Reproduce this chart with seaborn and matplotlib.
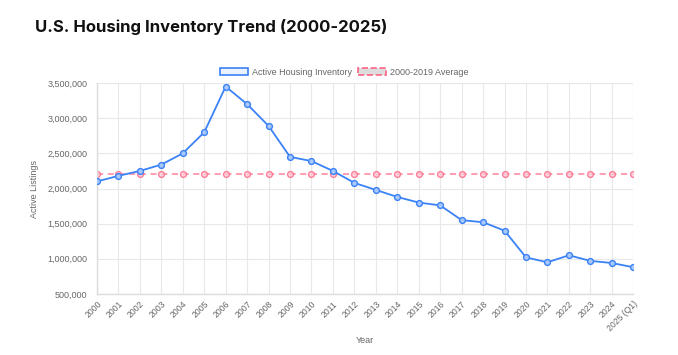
import matplotlib
matplotlib.use('Agg')
import matplotlib.pyplot as plt
import seaborn as sns
import pandas as pd
from matplotlib.patches import Patch
from matplotlib.ticker import FuncFormatter

# Data
years = ['2000', '2001', '2002', '2003', '2004', '2005', '2006', '2007', '2008',
         '2009', '2010', '2011', '2012', '2013', '2014', '2015', '2016', '2017',
         '2018', '2019', '2020', '2021', '2022', '2023', '2024', '2025 (Q1)']
inventory = [2100000, 2180000, 2250000, 2340000, 2500000, 2800000, 3450000, 3200000,
             2890000, 2450000, 2390000, 2250000, 2080000, 1980000, 1880000, 1800000,
             1760000, 1550000, 1520000, 1400000, 1020000, 950000, 1050000, 970000,
             940000, 880000]
avg_value = 2200000

df = pd.DataFrame({'Year': years, 'Inventory': inventory,
                   'Average': [avg_value] * len(years)})
df['pos'] = range(len(years))

sns.set_style('white')
plt.rcParams['font.family'] = ['Liberation Sans', 'DejaVu Sans']

blue = '#3b82f6'
red = '#ff6384'
grid_c = '#e8e8e8'
text_c = '#666666'

fig = plt.figure(figsize=(6.78, 3.55), dpi=100)
ax = fig.add_axes([0.143, 0.172, 0.791, 0.594])

sns.lineplot(data=df, x='pos', y='Average', ax=ax, color=red, lw=1.1,
             linestyle=(0, (4, 3)), marker='o', markersize=4.2,
             markerfacecolor='#ffd0da', markeredgecolor=red, markeredgewidth=1.0,
             alpha=0.8, zorder=2)
sns.lineplot(data=df, x='pos', y='Inventory', ax=ax, color=blue, lw=1.3,
             marker='o', markersize=4.2, markerfacecolor='#a9c8fb',
             markeredgecolor=blue, markeredgewidth=1.0, zorder=3)

ax.set_xlim(0, len(years) - 1)
ax.set_ylim(500000, 3500000)
ax.set_xticks(df['pos'])
ax.set_xticklabels(years, rotation=45, ha='right', rotation_mode='anchor',
                   fontsize=6.2, color=text_c)
ax.set_yticks([500000, 1000000, 1500000, 2000000, 2500000, 3000000, 3500000])
ax.yaxis.set_major_formatter(FuncFormatter(lambda v, p: f'{int(v):,}'))
ax.tick_params(axis='y', labelsize=6.5, labelcolor=text_c, length=0, pad=7)
ax.tick_params(axis='x', length=3, color=grid_c, pad=1)
ax.grid(True, color=grid_c, lw=0.8)
ax.set_axisbelow(True)
for s in ['top', 'right']:
    ax.spines[s].set_visible(False)
for s in ['left', 'bottom']:
    ax.spines[s].set_color('#dcdcdc')
    ax.spines[s].set_linewidth(1)

ax.set_xlabel('Year', fontsize=6.5, color=text_c, labelpad=2)
ax.set_ylabel('Active Listings', fontsize=6.5, color=text_c, labelpad=6)

handles = [Patch(facecolor='#eaf2fe', edgecolor=blue, lw=1.2),
           Patch(facecolor='#dddddd', edgecolor=red, lw=1.2, linestyle='--')]
fig.legend(handles, ['Active Housing Inventory', '2000-2019 Average'],
           loc='center', bbox_to_anchor=(0.508, 0.797), ncol=2, frameon=False,
           fontsize=6.5, handlelength=3.1, handleheight=0.9, columnspacing=0.7,
           handletextpad=0.4, labelcolor=text_c)

fig.text(0.052, 0.925, 'U.S. Housing Inventory Trend (2000-2025)', fontsize=12,
         fontweight='bold', color='#111111', va='center', ha='left',
         family=['Inter', 'DejaVu Sans'])

fig.savefig('out.png', dpi=100)
